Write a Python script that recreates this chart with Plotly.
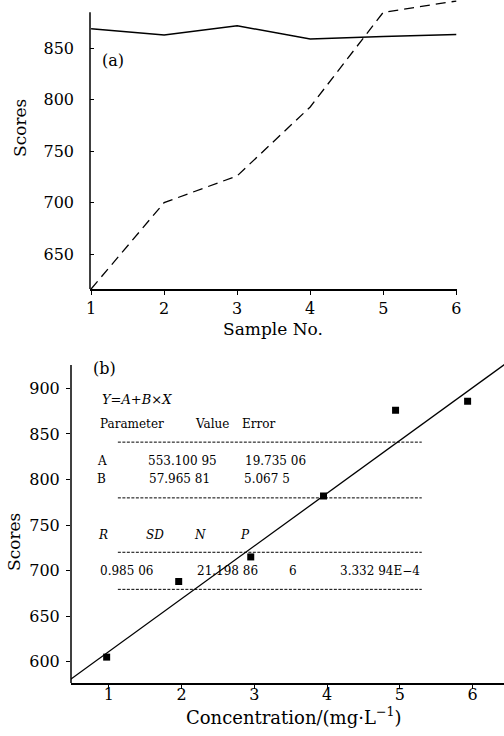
import plotly.graph_objects as go

# ---------------- data ----------------
sample_no = [1, 2, 3, 4, 5, 6]
scores_solid = [869, 863, 872, 859, 861.5, 863.5]
scores_dashed = [616, 700, 726, 793, 885, 896]

conc = [0.97, 1.96, 2.95, 3.95, 4.94, 5.93]
conc_scores = [605, 688, 715, 782, 876, 886]

fit_A = 553.10095
fit_B = 57.96581
fit_x = [0.4, 6.6]

y_ticks_a = [650, 700, 750, 800, 850]
y_ticks_b = [600, 650, 700, 750, 800, 850, 900]
x_ticks = [1, 2, 3, 4, 5, 6]

table_rows = [
    ["Parameter", "Value", "Error"],
    ["A", "553.100 95", "19.735 06"],
    ["B", "57.965 81", "5.067 5"],
    ["R", "SD", "N", "P"],
    ["0.985 06", "21.198 86", "6", "3.332 94E−4"],
]

W, H = 504, 736
FONT = "DejaVu Serif"

def px(x):
    return x / W

def py(y):
    return 1 - y / H

fig = go.Figure()

# (a) top panel
fig.add_trace(go.Scatter(x=sample_no, y=scores_solid, mode="lines",
                         line=dict(color="black", width=1.5),
                         xaxis="x", yaxis="y", showlegend=False))
fig.add_trace(go.Scatter(x=sample_no, y=scores_dashed, mode="lines",
                         line=dict(color="black", width=1.3, dash="10px,6px"),
                         xaxis="x", yaxis="y", showlegend=False))

# (b) bottom panel
fit_y = [fit_A + fit_B * v for v in fit_x]
fig.add_trace(go.Scatter(x=fit_x, y=fit_y, mode="lines",
                         line=dict(color="black", width=1.3),
                         xaxis="x2", yaxis="y2", showlegend=False))
fig.add_trace(go.Scatter(x=conc, y=conc_scores, mode="markers",
                         marker=dict(symbol="square", size=7, color="black"),
                         xaxis="x2", yaxis="y2", showlegend=False))

tickfont = dict(family=FONT, size=16, color="black")

axis_common = dict(showgrid=False, zeroline=False, ticklen=4,
                   tickwidth=1, tickcolor="black", tickfont=tickfont,
                   automargin=False)

fig.update_layout(
    template="none",
    width=W, height=H,
    margin=dict(l=0, r=0, t=0, b=0, pad=0),
    paper_bgcolor="white", plot_bgcolor="white",
    xaxis=dict(domain=[px(90), px(457)], range=[0.985, 6.01], anchor="y",
               tickvals=x_ticks, showline=True, linecolor="black", linewidth=1.5,
               ticks="outside", ticklabelstandoff=0, **axis_common),
    yaxis=dict(domain=[py(289), py(0)], range=[616, 897], anchor="x",
               tickvals=y_ticks_a, showline=False,
               ticks="inside", ticklabelstandoff=15, **axis_common),
    xaxis2=dict(domain=[px(71), 1], range=[0.48, 6.43], anchor="y2",
                tickvals=x_ticks, showline=True, linecolor="black", linewidth=1.5,
                ticks="outside", ticklabelstandoff=-8, **axis_common),
    yaxis2=dict(domain=[py(683), py(356.5)], range=[576.6, 935], anchor="x2",
                tickvals=y_ticks_b, showline=False,
                ticks="outside", ticklabelstandoff=3, **axis_common),
)

# y-axis lines (stop below top of plotting area, as in the original)
fig.add_shape(type="line", xref="x domain", yref="y", x0=0, x1=0, y0=616, y1=885,
              line=dict(color="black", width=1.5))
fig.add_shape(type="line", xref="x2 domain", yref="y2", x0=0, x1=0, y0=576.6, y1=925.6,
              line=dict(color="black", width=1.5))

# dashed table rules in panel (b)
for yv in [841.0, 779.8, 720.1, 679.4]:
    fig.add_shape(type="line", xref="x2", yref="y2", x0=1.124, x1=5.30, y0=yv, y1=yv,
                  line=dict(color="black", width=1, dash="3px,1.5px"))

ann = []
def add_text(text, x, y, xref, yref, size=12, xanchor="left", italic=False, angle=0):
    ann.append(dict(text=("<i>%s</i>" % text) if italic else text, x=x, y=y,
                    xref=xref, yref=yref, showarrow=False, xanchor=xanchor,
                    yanchor="middle", textangle=angle,
                    font=dict(family=FONT, size=size, color="black")))

# panel labels
add_text("(a)", 1.30, 838.3, "x", "y", size=16, xanchor="center")
add_text("(b)", 0.945, 922.3, "x2", "y2", size=16, xanchor="center")

# axis titles
add_text("Scores", px(20), py(128), "paper", "paper", size=17, xanchor="center", angle=-90)
add_text("Sample No.", px(273), py(329), "paper", "paper", size=17, xanchor="center")
add_text("Scores", px(14), py(542), "paper", "paper", size=17, xanchor="center", angle=-90)
add_text("Concentration/(mg·L<sup>−1</sup>)", px(293), py(716), "paper", "paper",
         size=18, xanchor="center")

# regression table
add_text("Y=A+B×X", 0.876, 888.2, "x2", "y2", size=13, italic=True)
row_y = [860.8, 820.1, 800.3, 738.8, 699.6]
col_x = [
    [0.849, 2.154, 2.80],
    [0.808, 1.508, 2.84],
    [0.808, 1.522, 2.827],
    [0.82, 1.48, 2.14, 2.77],
    [0.849, 2.18, 3.445, 4.146],
]
for r, (row, yv) in enumerate(zip(table_rows, row_y)):
    for txt, xv in zip(row, col_x[r]):
        add_text(txt, xv, yv, "x2", "y2", size=12, italic=(r == 3))

fig.update_layout(annotations=ann)
fig.write_html(
    "out.html",
    config={"displayModeBar": False},
    post_script="document.body.style.margin='0';document.body.style.overflow='hidden';",
)
